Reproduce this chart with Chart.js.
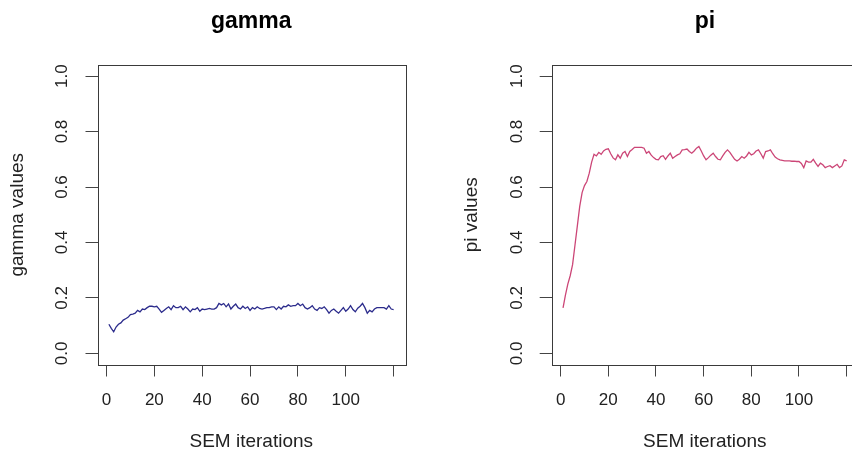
<!DOCTYPE html>
<html><head><meta charset="utf-8">
<script src="https://cdn.jsdelivr.net/npm/chart.js@4/dist/chart.umd.min.js"></script>
<style>
html,body{margin:0;padding:0;background:#fff;overflow:hidden;}
#wrap{position:relative;width:852px;height:459px;overflow:hidden;background:#fff;}
.box{position:absolute;top:0;height:459px;}
</style></head><body>
<div id="wrap">
<div class="box" style="left:0;width:426px"><canvas id="c1" width="426" height="459"></canvas></div>
<div class="box" style="left:426px;width:440px"><canvas id="c2" width="440" height="459"></canvas></div>
</div>
<script>
// ---- data ----
const gammaValues = [
0.105,0.090,0.078,0.095,0.105,0.110,0.120,0.125,0.130,0.140,
0.142,0.145,0.155,0.150,0.160,0.158,0.165,0.170,0.170,0.168,
0.170,0.160,0.148,0.155,0.162,0.168,0.158,0.172,0.165,0.165,
0.170,0.158,0.168,0.160,0.150,0.160,0.158,0.165,0.152,0.160,
0.158,0.160,0.162,0.160,0.160,0.165,0.180,0.175,0.180,0.168,
0.178,0.160,0.170,0.178,0.165,0.160,0.170,0.162,0.168,0.155,
0.165,0.160,0.168,0.162,0.160,0.162,0.165,0.165,0.168,0.168,
0.158,0.168,0.160,0.170,0.168,0.175,0.170,0.172,0.172,0.180,
0.172,0.178,0.165,0.160,0.165,0.172,0.160,0.155,0.165,0.162,
0.168,0.158,0.145,0.155,0.160,0.152,0.145,0.155,0.165,0.152,
0.160,0.172,0.158,0.150,0.163,0.170,0.180,0.165,0.145,0.155,
0.150,0.160,0.165,0.165,0.165,0.165,0.160,0.172,0.160,0.158];
const piValues = [
0.164,0.210,0.250,0.280,0.320,0.390,0.460,0.530,0.580,0.605,
0.620,0.650,0.690,0.718,0.712,0.725,0.718,0.730,0.736,0.738,
0.720,0.705,0.698,0.716,0.704,0.722,0.728,0.710,0.728,0.735,
0.743,0.743,0.743,0.743,0.740,0.722,0.728,0.715,0.706,0.700,
0.698,0.710,0.713,0.700,0.712,0.722,0.704,0.710,0.716,0.720,
0.734,0.735,0.737,0.728,0.722,0.730,0.740,0.746,0.730,0.712,
0.698,0.706,0.715,0.722,0.710,0.700,0.698,0.712,0.725,0.734,
0.725,0.712,0.700,0.694,0.700,0.710,0.704,0.712,0.725,0.716,
0.720,0.730,0.734,0.720,0.704,0.728,0.730,0.734,0.720,0.708,
0.702,0.698,0.696,0.694,0.694,0.694,0.693,0.693,0.692,0.692,
0.685,0.670,0.694,0.690,0.690,0.700,0.686,0.674,0.686,0.680,
0.670,0.674,0.677,0.670,0.676,0.682,0.670,0.676,0.698,0.694];
const iterations = gammaValues.map((_, i) => i + 1);
const xTickValues = [0, 20, 40, 60, 80, 100, 120];
const xTickLabels = ['0', '20', '40', '60', '80', '100', ''];
const yTickValues = [0, 0.2, 0.4, 0.6, 0.8, 1.0];
const yTickLabels = ['0.0', '0.2', '0.4', '0.6', '0.8', '1.0'];

const FONT = '"Liberation Sans", Arial, Helvetica, sans-serif';

const rPlot = {
  id: 'rPlot',
  afterDraw(chart, args, o) {
    const {ctx, chartArea: a} = chart;
    ctx.save();
    ctx.strokeStyle = '#3a3a3a';
    ctx.lineWidth = 1;
    ctx.strokeRect(Math.round(a.left) + 0.5, Math.round(a.top) + 0.5,
                   Math.round(a.right - a.left), Math.round(a.bottom - a.top));
    const cx = (a.left + a.right) / 2, cy = (a.top + a.bottom) / 2;
    ctx.fillStyle = '#000';
    ctx.textAlign = 'center';
    ctx.textBaseline = 'middle';
    ctx.font = 'bold 23px ' + FONT;
    ctx.fillText(o.title, cx, o.titleY);
    ctx.fillStyle = '#222';
    ctx.font = '19px ' + FONT;
    ctx.fillText(o.xTitle, cx, o.xTitleY);
    ctx.translate(o.yTitleX, cy);
    ctx.rotate(-Math.PI / 2);
    ctx.fillText(o.yTitle, 0, 0);
    ctx.restore();
  }
};

function makeChart(id, values, color, title, yTitle, d) {
  return new Chart(document.getElementById(id), {
    type: 'line',
    data: {
      datasets: [{
        data: iterations.map((x, i) => ({x: x, y: values[i]})),
        borderColor: color,
        borderWidth: 1.3,
        pointRadius: 0,
        tension: 0,
        fill: false
      }]
    },
    options: {
      responsive: false,
      animation: false,
      events: [],
      layout: {padding: {left: 0, right: d.padRight, top: 65, bottom: 0}},
      plugins: {
        legend: {display: false},
        tooltip: {enabled: false},
        rPlot: {title: title, yTitle: yTitle, xTitle: 'SEM iterations',
                titleY: 22, xTitleY: 442, yTitleX: d.yTitleX}
      },
      scales: {
        x: {
          type: 'linear',
          min: -3.76, max: 124.76,
          afterBuildTicks: s => { s.ticks = xTickValues.map(v => ({value: v})); },
          afterFit: s => { s.height = 459 - 364.5; },
          border: {display: false},
          grid: {drawOnChartArea: false, drawTicks: true, tickLength: 12, color: '#444', lineWidth: 1},
          ticks: {
            autoSkip: false, maxRotation: 0, padding: 14, color: '#222',
            font: {family: FONT, size: 17},
            callback: (v) => xTickLabels[xTickValues.indexOf(v)]
          }
        },
        y: {
          type: 'linear',
          min: -0.04, max: 1.04,
          afterBuildTicks: s => { s.ticks = yTickValues.map(v => ({value: v})); },
          afterFit: s => { s.width = d.yWidth; },
          border: {display: false},
          grid: {drawOnChartArea: false, drawTicks: true, tickLength: 12, color: '#444', lineWidth: 1},
          ticks: {
            autoSkip: false, minRotation: 90, maxRotation: 90, crossAlign: 'center',
            padding: 11, color: '#222',
            font: {family: FONT, size: 17},
            callback: (v) => yTickLabels[yTickValues.findIndex(t => Math.abs(t - v) < 1e-9)]
          }
        }
      }
    },
    plugins: [rPlot]
  });
}

makeChart('c1', gammaValues, '#2c2c8c', 'gamma', 'gamma values', {padRight: 21, yWidth: 97.5, yTitleX: 18});
makeChart('c2', piValues, '#cc4677', 'pi', 'pi values', {padRight: 8, yWidth: 125.7, yTitleX: 46});
</script>
</body></html>
